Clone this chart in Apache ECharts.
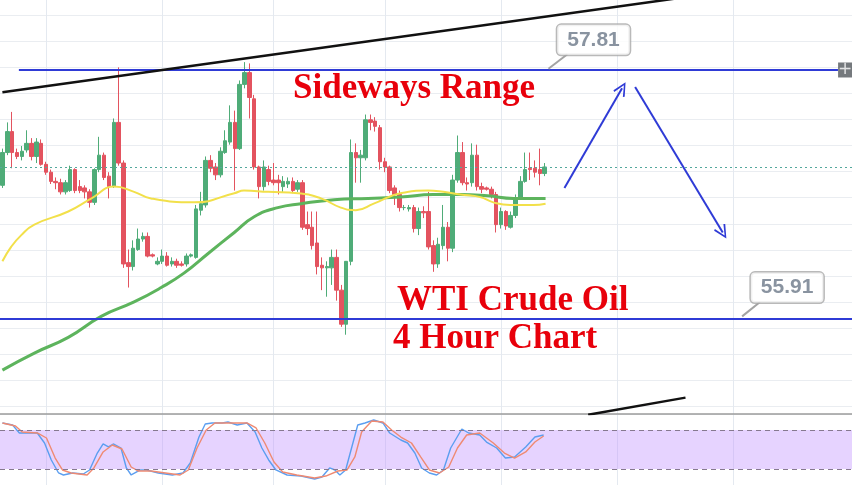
<!DOCTYPE html>
<html><head><meta charset="utf-8">
<script src="https://cdn.jsdelivr.net/npm/echarts@6/dist/echarts.min.js"></script>
<style>html,body{margin:0;padding:0;background:#fff;overflow:hidden}#c{width:852px;height:485px;}</style>
</head><body><div id="c"></div>
<script>
// ---- data ----
const SLOTS = 176; // candle slots across the visible time span (incl. empty future area)
const categories = Array.from({length: SLOTS}, (_, i) => 'c' + i);
// [open, close, low, high]
const candles = [
[56.93,57.18,56.91,57.21],[57.18,57.34,57.16,57.41],[57.34,57.18,57.06,57.49],[57.18,57.15,57.13,57.21],
[57.15,57.19,57.12,57.23],[57.20,57.25,57.18,57.35],[57.25,57.15,57.12,57.29],[57.15,57.26,57.10,57.29],
[57.25,57.09,57.08,57.28],[57.09,57.03,57.01,57.11],[57.03,56.96,56.94,57.05],[56.96,56.95,56.90,56.99],
[56.95,56.88,56.86,56.98],[56.88,56.95,56.86,56.97],[56.89,57.05,56.88,57.08],[57.05,56.89,56.87,57.06],
[56.92,56.89,56.87,56.97],[56.91,56.88,56.83,56.93],[56.88,56.80,56.76,56.90],[56.80,57.05,56.78,57.06],
[57.05,57.16,57.03,57.30],[57.16,56.99,56.97,57.18],[57.00,56.92,56.83,57.03],[56.92,57.41,56.91,57.44],
[57.41,57.10,57.08,57.83],[57.10,56.33,56.30,57.12],[56.34,56.31,56.15,56.44],[56.31,56.45,56.28,56.51],
[56.44,56.52,56.43,56.60],[56.52,56.54,56.50,56.57],[56.54,56.39,56.38,56.57],[56.40,56.39,56.38,56.41],
[56.33,56.35,56.32,56.38],[56.35,56.39,56.33,56.44],[56.39,56.32,56.31,56.42],[56.33,56.35,56.31,56.38],
[56.35,56.32,56.30,56.37],[56.33,56.32,56.31,56.35],[56.33,56.39,56.31,56.41],[56.39,56.40,56.38,56.41],
[56.38,56.75,56.37,56.78],[56.74,56.79,56.70,56.88],[56.78,57.12,56.76,57.15],[57.12,57.06,57.03,57.16],
[57.07,57.01,56.97,57.10],[57.01,57.19,56.99,57.22],[57.18,57.27,57.17,57.35],[57.26,57.41,57.24,57.54],
[57.41,57.21,56.89,57.50],[57.21,57.70,57.20,57.73],[57.70,57.79,57.67,57.87],[57.79,57.60,57.44,57.86],
[57.59,57.07,57.05,57.62],[57.07,56.92,56.83,57.08],[56.92,57.07,56.89,57.12],[57.05,56.96,56.93,57.08],
[56.97,56.95,56.93,57.10],[56.97,56.95,56.86,57.01],[56.92,56.96,56.88,57.00],[56.94,56.96,56.91,56.99],
[56.96,56.89,56.87,56.99],[56.90,56.95,56.88,56.97],[56.95,56.61,56.59,56.97],[56.63,56.60,56.55,56.73],
[56.61,56.47,56.44,56.73],[56.49,56.31,56.25,56.73],[56.32,56.30,56.13,56.38],[56.30,56.31,56.08,56.35],
[56.30,56.38,56.17,56.44],[56.38,56.13,56.05,56.44],[56.13,55.87,55.85,56.17],[55.87,56.35,55.79,55.89],
[56.35,57.18,56.32,57.28],[57.18,57.14,56.95,57.25],[57.14,57.16,56.95,57.20],[57.14,57.43,57.12,57.47],
[57.43,57.41,57.35,57.47],[57.42,57.38,57.34,57.45],[57.37,57.11,57.05,57.39],[57.11,57.07,57.03,57.14],
[57.07,56.89,56.87,57.08],[56.91,56.86,56.78,56.93],[56.86,56.76,56.73,56.89],[56.76,56.76,56.74,56.78],
[56.75,56.76,56.73,56.78],[56.76,56.60,56.57,56.78],[56.60,56.73,56.55,56.76],[56.73,56.72,56.68,56.77],
[56.73,56.46,56.44,56.88],[56.47,56.33,56.27,56.51],[56.33,56.48,56.30,56.53],[56.47,56.61,56.44,56.78],
[56.61,56.45,56.35,56.65],[56.45,56.97,56.42,57.01],[56.97,57.18,56.95,57.31],[57.18,56.95,56.93,57.26],
[56.95,56.94,56.89,56.99],[56.95,57.16,56.92,57.25],[57.16,56.92,56.89,57.24],[56.92,56.90,56.87,56.95],
[56.91,56.90,56.89,56.92],[56.90,56.86,56.83,56.92],[56.86,56.63,56.57,56.88],[56.63,56.73,56.60,56.76],
[56.73,56.62,56.59,56.74],[56.61,56.70,56.60,56.73],[56.70,56.83,56.68,56.86],[56.83,56.96,56.82,57.00],
[56.96,57.05,56.95,57.18],[57.06,57.05,56.97,57.18],[57.06,57.03,56.99,57.12],[57.05,57.02,56.93,57.21],
[57.02,57.07,57.00,57.10]
];
// moving averages [slot, price]
const maYellow = [[0,56.35],[1.8,56.46],[3.9,56.55],[6.6,56.63],[13.6,56.73],[18.4,56.83],[23.1,56.92],[27.2,56.88],
[30.7,56.83],[39.6,56.80],[47.9,56.87],[49.9,56.89],[54.9,56.88],[61,56.87],[65.8,56.83],[69.9,56.76],[73,56.74],
[76.7,56.79],[82.2,56.87],[87.9,56.89],[91.1,56.88],[94.6,56.86],[98.7,56.84],[101.4,56.80],[104.9,56.78],[109.7,56.78],[112.2,56.79]];
const maGreen = [[0,55.52],[6.6,55.65],[13.6,55.77],[20.4,55.93],[27.2,56.04],[32.8,56.15],[37.5,56.26],[42.5,56.41],
[47.9,56.57],[52,56.69],[56.9,56.76],[61.7,56.79],[68.5,56.82],[75.5,56.83],[82.2,56.84],[89,56.86],[94.6,56.86],
[100.2,56.85],[105.6,56.83],[112.2,56.83]];
// stochastic %K / %D [slot, value]
const stochK = [[0,90.8],[2.1,87.7],[3.5,75.4],[5,75.4],[7.2,75.4],[8.7,60],[10.1,33.9],[11.6,13.9],[12.6,10.8],[14.5,13.9],
[16.7,12.3],[18,18.5],[19.6,44.6],[20.8,58.5],[21.9,53.9],[22.9,58.5],[24.5,52.3],[25.6,21.6],[26.6,10.8],[28.5,18.5],
[29.8,18.5],[32.2,13.9],[35.1,10.8],[37.3,13.9],[38.8,29.2],[40.6,69.2],[41.9,89.2],[43.3,90.8],[45.4,90.8],[46.6,92.3],
[48.5,87.7],[50.5,90.8],[52.2,76.9],[53.6,52.3],[55,33.9],[56.5,18.5],[58.8,10.8],[61.7,9.2],[64.5,4.6],[66,7.7],
[67.6,21.6],[68.7,18.5],[69.7,10.8],[70.9,18.5],[72.4,60],[73.4,87.7],[74.9,90.8],[76.7,95.4],[78.6,90.8],[80,75.4],
[82.3,64.6],[83.7,60],[85.2,44.6],[86.6,21.6],[88.2,13.9],[89.7,10.8],[91.1,18.5],[92.6,52.3],[94.9,81.5],[96.3,75.4],
[98.6,72.3],[100,61.5],[102.1,52.3],[103.9,36.9],[105.8,38.5],[108.1,53.9],[110,69.2],[111.8,72.3]];
const stochD = [[0,90.8],[2.7,86.2],[4.1,76.9],[7.2,75.4],[9.1,67.7],[10.9,36.9],[12.4,18.5],[14.2,13.9],[17.5,10.8],
[18.9,21.6],[20.8,46.2],[22.7,56.9],[24.7,50.8],[26.6,23.1],[28.1,16.9],[30.7,16.9],[36.7,10.8],[38.4,18.5],[40.2,52.3],
[42.1,80],[43.9,90.8],[47.1,90.8],[50.5,90.8],[52.4,83.1],[54.2,60],[56.1,30.8],[57.9,15.4],[60.8,10.8],[64.5,6.2],
[66.8,9.2],[69.3,16.9],[71.2,18.5],[72.8,38.5],[74.2,76.9],[76.3,93.8],[78.6,92.3],[80.4,80],[82.3,69.2],[84.5,60],
[86.4,38.5],[88.2,18.5],[90.3,13.9],[92.2,23.1],[94,52.3],[95.9,72.3],[98.6,75.4],[101.4,60],[103.7,44.6],[105.8,36.9],
[108.1,46.2],[110,61.5],[111.8,70.8]];
const stochBands = [20, 80];
// levels and drawings [slot, price]
const resistance = 57.81;
const support = 55.91;
const lastPrice = 57.07;
const resistanceSpan = [[3.4, 57.81], [172.6, 57.81]];
const trendUpper = [[0, 57.64], [140, 58.36]];
const trendLower = [[121, 55.18], [141.1, 55.31]];
const arrowUp = [[116.1, 56.91], [128.0, 57.67]];
const arrowDown = [[130.7, 57.68], [148.8, 56.57]];
const calloutTop = [[122.1, 58.04]];
const calloutTopTail = [[116.7, 57.93], [112.8, 57.82]];
const calloutBottom = [[162.1, 56.15]];
const calloutBottomTail = [[156.5, 56.04], [152.8, 55.93]];
const plusBox = [[174.07, 57.81]];
const vGridSlots = [9, 33, 56, 79, 103, 127, 151];

// ---- chart ----
const BLUE = '#2f3bd6';
const chart = echarts.init(document.getElementById('c'), null, {renderer: 'canvas'});
const arrowHead = 'path://M0,0 L6,10 L4.6,10.8 L0,2.6 L-4.6,10.8 L-6,10 Z';
const redText = {color: '#e8000b', fontFamily: 'Liberation Serif', fontWeight: 'bold', fontSize: 35};
const vSplit = {show: true, alignWithLabel: true, interval: (i) => vGridSlots.includes(i), lineStyle: {color: '#e4e9f0', width: 1}};
const calloutLabel = {show: true, position: 'inside',
  backgroundColor: '#ffffff', borderColor: '#a8a8a8', borderWidth: 1.5, borderRadius: 4, padding: [4, 10],
  color: '#6b7888', fontFamily: 'Liberation Sans', fontWeight: 'bold', fontSize: 21, lineHeight: 22};

chart.setOption({
  animation: false,
  backgroundColor: '#ffffff',
  title: [
    {text: 'Sideways Range', left: 293, top: 71, padding: 0, textStyle: redText},
    {text: 'WTI Crude Oil', left: 397, top: 283, padding: 0, textStyle: redText},
    {text: '4 Hour Chart', left: 393, top: 321, padding: 0, textStyle: redText}
  ],
  grid: [
    {left: -1.5, right: 0, top: 0, bottom: 71},
    {left: -1.5, right: 0, top: 414, bottom: 0},
    {left: -1.5, right: 0, top: 15, bottom: 71}
  ],
  xAxis: [
    {type: 'category', gridIndex: 0, data: categories, boundaryGap: true,
     axisLine: {show: true, onZero: false, lineStyle: {color: '#9b9b9b', width: 1.5}},
     axisTick: {show: false}, axisLabel: {show: false}, splitLine: vSplit},
    {type: 'value', gridIndex: 0, min: -0.5, max: SLOTS - 0.5, show: false},
    {type: 'category', gridIndex: 1, data: categories, boundaryGap: true,
     axisLine: {show: false}, axisTick: {show: false}, axisLabel: {show: false}, splitLine: vSplit},
    {type: 'value', gridIndex: 1, min: -0.5, max: SLOTS - 0.5, show: false},
    {type: 'value', gridIndex: 2, min: 0, max: 1, show: false}
  ],
  yAxis: [
    {type: 'value', gridIndex: 0, min: 55.185, max: 58.344, show: false},
    {type: 'value', gridIndex: 2, inverse: true, min: 0, max: 15.287, interval: 1,
     axisLine: {show: false}, axisTick: {show: false}, axisLabel: {show: false},
     splitLine: {show: true, lineStyle: {color: '#eaedf1', width: 1}}},
    {type: 'value', gridIndex: 1, min: -4.6, max: 104.6, show: false}
  ],
  series: [
    {type: 'candlestick', name: 'WTI', xAxisIndex: 0, yAxisIndex: 0, data: candles, barWidth: 4, z: 3,
     itemStyle: {color: '#4fac78', color0: '#e3535f', borderColor: '#4fac78', borderColor0: '#e3535f', borderWidth: 1},
     markLine: {symbol: 'none', silent: true, label: {show: false},
       data: [
         {yAxis: support, lineStyle: {color: BLUE, width: 2, type: 'solid'}},
         {yAxis: lastPrice, lineStyle: {color: '#53a89c', width: 1, type: [2, 3]}}
       ]}},
    {type: 'line', name: 'MA slow', xAxisIndex: 1, yAxisIndex: 0, data: maGreen, smooth: true, showSymbol: false, z: 4,
     lineStyle: {color: '#5db45d', width: 3}},
    {type: 'line', name: 'MA fast', xAxisIndex: 1, yAxisIndex: 0, data: maYellow, smooth: true, showSymbol: false, z: 4,
     lineStyle: {color: '#f2e04a', width: 2}},
    {type: 'line', name: 'Resistance', xAxisIndex: 1, yAxisIndex: 0, data: resistanceSpan, showSymbol: false, z: 5,
     lineStyle: {color: BLUE, width: 2}},
    {type: 'line', name: 'Trend upper', xAxisIndex: 1, yAxisIndex: 0, data: trendUpper, showSymbol: false, z: 5,
     lineStyle: {color: '#111111', width: 2.5},
     markLine: {symbol: ['none', arrowHead], symbolSize: [13, 14], silent: true, label: {show: false},
       lineStyle: {color: BLUE, width: 2, type: 'solid'},
       data: [
         [{coord: arrowUp[0]}, {coord: arrowUp[1]}],
         [{coord: arrowDown[0]}, {coord: arrowDown[1]}]
       ]}},
    {type: 'line', name: 'Trend lower', xAxisIndex: 1, yAxisIndex: 0, data: trendLower, showSymbol: false, z: 5,
     lineStyle: {color: '#111111', width: 2.5}},
    {type: 'line', name: 'tail top', xAxisIndex: 1, yAxisIndex: 0, data: calloutTopTail, showSymbol: false, z: 6,
     lineStyle: {color: '#a3a3a3', width: 2}},
    {type: 'line', name: 'tail bottom', xAxisIndex: 1, yAxisIndex: 0, data: calloutBottomTail, showSymbol: false, z: 6,
     lineStyle: {color: '#a3a3a3', width: 2}},
    {type: 'scatter', name: 'callout top', xAxisIndex: 1, yAxisIndex: 0, data: calloutTop, symbolSize: 1, z: 7,
     itemStyle: {color: 'rgba(0,0,0,0)'},
     label: Object.assign({formatter: () => resistance.toFixed(2)}, calloutLabel)},
    {type: 'scatter', name: 'callout bottom', xAxisIndex: 1, yAxisIndex: 0, data: calloutBottom, symbolSize: 1, z: 7,
     itemStyle: {color: 'rgba(0,0,0,0)'},
     label: Object.assign({formatter: () => support.toFixed(2)}, calloutLabel)},
    {type: 'scatter', name: 'plus', xAxisIndex: 1, yAxisIndex: 0, data: plusBox, symbol: 'rect', symbolSize: [14, 15], z: 7,
     itemStyle: {color: '#53575c'},
     label: {show: true, position: 'inside', formatter: '+', color: '#ffffff', fontSize: 17, fontFamily: 'DejaVu Sans'}},
    {type: 'line', name: '%K', xAxisIndex: 3, yAxisIndex: 2, data: stochK, showSymbol: false, z: 4,
     lineStyle: {color: '#5b9ef0', width: 1.4},
     markArea: {silent: true, itemStyle: {color: 'rgba(196,150,255,0.42)'},
       data: [[{yAxis: stochBands[0]}, {yAxis: stochBands[1]}]]},
     markLine: {symbol: 'none', silent: true, label: {show: false},
       lineStyle: {color: '#86798f', width: 1.2, type: [5, 4]},
       data: [{yAxis: stochBands[0]}, {yAxis: stochBands[1]}]}},
    {type: 'line', name: '%D', xAxisIndex: 3, yAxisIndex: 2, data: stochD, showSymbol: false, z: 4,
     lineStyle: {color: '#ef8a72', width: 1.4}}
  ]
});
</script></body></html>
